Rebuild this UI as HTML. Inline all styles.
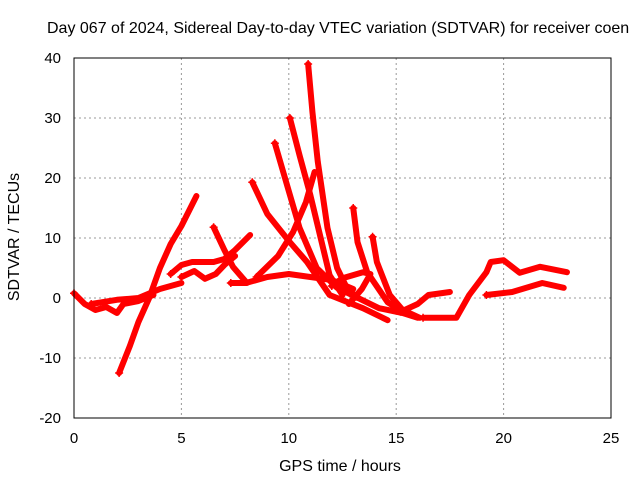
<!DOCTYPE html>
<html><head><meta charset="utf-8"><style>
body{margin:0;background:#fff}
svg{display:block;font-family:"Liberation Sans",sans-serif;font-size:15px}
</style></head><body>
<svg id="chart" width="640" height="480" viewBox="0 0 640 480">
<rect width="640" height="480" fill="#fff"/>
<g id="grid"></g>
<g id="series"></g>
<rect x="74" y="58" width="537" height="360" fill="none" stroke="#000" stroke-width="1"/>
<g id="ticks"></g>
<text x="47" y="33" font-size="16">Day 067 of 2024, Sidereal Day-to-day VTEC variation (SDTVAR) for receiver coen</text>
<text x="340" y="471" text-anchor="middle" font-size="16">GPS time / hours</text>
<text transform="translate(19,237) rotate(-90)" text-anchor="middle" font-size="16">SDTVAR / TECUs</text>
</svg>
<script>
const xTicks=[0,5,10,15,20,25];
const yTicks=[-20,-10,0,10,20,30,40];
const t1=[[0,0.8],[0.5,-1],[1,-2],[1.5,-1.5],[2,-2.5],[2.3,-1],[3,-0.5],[3.7,0.5]];
const t2=[[2.1,-12.5],[2.6,-8],[3,-4],[3.5,0],[4,5],[4.5,9],[5,12],[5.7,17]];
const t3=[[0.8,-1],[2,-0.3],[3,0],[4,1.5],[5,2.5]];
const t4=[[4.5,4],[5,5.5],[5.5,6],[6,6],[6.5,6],[7,6.5],[7.5,8],[8.2,10.5]];
const t5=[[5,3.5],[5.6,4.5],[6.1,3.2],[6.6,4],[7,5.5],[7.5,7]];
const t6=[[6.5,11.8],[7,8],[7.4,5.2],[8.05,2.5]];
const t7=[[7.3,2.5],[8,2.5],[9,3.5],[10,4],[11,3.5],[12,3],[13,1.5]];
const t8=[[8.3,19.3],[9,14],[10.05,9.3],[10.85,6],[11.9,0.5],[13.45,-1.7],[14.6,-3.7]];
const t9=[[9.35,25.8],[10.05,17.2],[10.5,11.7],[11.3,5],[12.25,1.7],[14.2,-1.7],[15.3,-2.5],[16,-3.3]];
const t10=[[10.05,30],[10.5,23.8],[11,17.2],[11.45,10.5],[11.9,3.8],[12.5,0.5]];
const t11=[[10.9,39],[11.1,31],[11.35,22.7],[11.8,11.7],[12.25,5],[12.7,1.7],[13.2,0]];
const t12=[[8.5,3.5],[9.5,7],[10.2,11],[10.8,16],[11.2,21]];
const t13=[[13,15],[13.2,9.3],[13.65,4.3],[14.6,-0.7],[15.3,-2.3]];
const t14=[[13.9,10.2],[14.1,6],[14.7,0.5],[15.3,-2],[16.1,-3.3]];
const t15=[[12,2],[12.5,3.3],[13.45,4.3],[13.8,4],[13.4,1.5],[12.8,-1]];
const t16=[[16.25,-3.3],[17.8,-3.3],[18.4,0.5],[19.2,4.3],[19.4,6],[20,6.3],[20.75,4.2],[21.7,5.2],[22.95,4.3]];
const t17=[[19.2,0.5],[20.4,1],[21.8,2.5],[22.8,1.7]];
const t18=[[15.2,-2.3],[16,-1],[16.5,0.5],[17.5,1]];
const traces=[t1,t2,t3,t4,t5,t6,t7,t8,t9,t10,t11,t12,t13,t14,t15,t16,t17,t18];
const NS="http://www.w3.org/2000/svg";
const X=v=>74+v*(537/25);
const Y=v=>418-(v+20)*6;
const grid=document.getElementById('grid'),ticks=document.getElementById('ticks'),ser=document.getElementById('series');
function mk(tag,at,parent){const e=document.createElementNS(NS,tag);for(const k in at)e.setAttribute(k,at[k]);parent.appendChild(e);return e;}
xTicks.forEach(t=>{
 if(t>0&&t<25){const g=mk('line',{x1:X(t),x2:X(t),y1:58,y2:418,stroke:'#999','stroke-dasharray':'2,3'},grid);
 
 }
 const tx=mk('text',{x:X(t),y:443,'text-anchor':'middle'},ticks);tx.textContent=t;
 
 
});
yTicks.forEach(t=>{
 if(t>-20&&t<40){const g=mk('line',{x1:74,x2:611,y1:Y(t),y2:Y(t),stroke:'#999','stroke-dasharray':'2,3'},grid);
 
 }
 const tx=mk('text',{x:61,y:Y(t)+5,'text-anchor':'end'},ticks);tx.textContent=t;
 
 
});
traces.forEach((tr,i)=>{
 const p=mk('polyline',{points:tr.map(d=>X(d[0])+','+Y(d[1])).join(' '),fill:'none',stroke:'#f00','stroke-width':6,'stroke-linejoin':'round','stroke-linecap':'round'},ser);
 
 
 const s=tr[0];
 const m=mk('path',{d:`M${X(s[0])-4},${Y(s[1])}h8M${X(s[0])},${Y(s[1])-4}v8`,stroke:'#f00','stroke-width':1.5},ser);
 
 
});
</script>
</body></html>
